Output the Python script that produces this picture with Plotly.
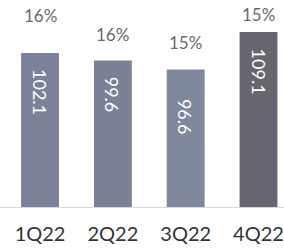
import plotly.graph_objects as go

categories = ["1Q22", "2Q22", "3Q22", "4Q22"]
values = [102.1, 99.6, 96.6, 109.1]
pct_labels = ["16%", "16%", "15%", "15%"]
bar_colors = ["#7b8199", "#7a8197", "#7e879c", "#67666f"]

pct_offsets = [12.4, 8.8, 8.9, 6.0]
value_shifts = [-14, -14, -27, -14]

fig = go.Figure()
fig.add_trace(go.Bar(
    x=categories, y=values, marker_color=bar_colors, marker_line_width=0,
    hoverinfo="skip",
))

for c, v, p, off, sh in zip(categories, values, pct_labels, pct_offsets, value_shifts):
    fig.add_annotation(x=c, y=v + off, text=p, showarrow=False,
                       font=dict(family="Lato", size=17, color="#6a6a6a"))
    fig.add_annotation(x=c, y=v, yanchor="top", yshift=sh, text=f"{v:.1f}",
                       textangle=90, showarrow=False,
                       font=dict(family="Lato", size=18, color="#ffffff"))

fig.update_layout(
    width=284, height=250,
    margin=dict(l=0, r=0, t=0, b=43),
    paper_bgcolor="white", plot_bgcolor="white",
    bargap=0.48, showlegend=False,
    xaxis=dict(range=[-0.55, 3.35], showline=True, linecolor="#d9d9d9", linewidth=1,
               ticks="outside", ticklen=9, tickcolor="rgba(0,0,0,0)",
               tickfont=dict(family="Lato", size=20, color="#333333"), showgrid=False),
    yaxis=dict(range=[50.8, 119.8], visible=False, showgrid=False),
)

fig.write_html("out.html", config={"displayModeBar": False},
               post_script="document.body.style.margin='0';document.body.style.overflow='hidden';")
